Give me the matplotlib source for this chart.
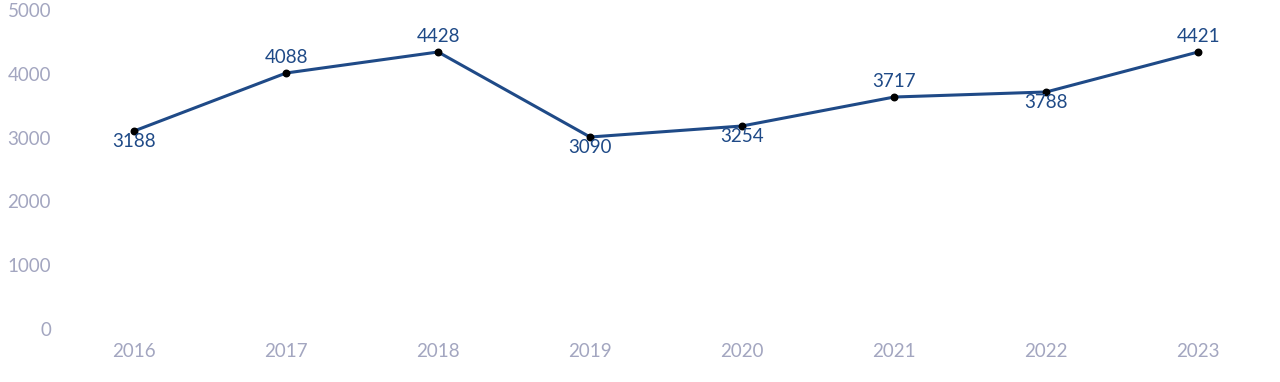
import matplotlib.pyplot as plt

years = ["2016", "2017", "2018", "2019", "2020", "2021", "2022", "2023"]
values = [3103, 4012, 4342, 3009, 3182, 3636, 3715, 4342]
labels = ["3188", "4088", "4428", "3090", "3254", "3717", "3788", "4421"]
label_above = [False, True, True, False, False, True, False, True]

LINE = "#1f4a87"
TICK = "#a3a6c0"

plt.rcParams["font.family"] = ["Lato", "DejaVu Sans"]

fig = plt.figure(figsize=(12.8, 3.82), dpi=100)
ax = fig.add_axes([58 / 1280, 1 - 329 / 382, (1259 - 58) / 1280, (329 - 10) / 382])

x = list(range(len(years)))
ax.plot(x, values, color=LINE, linewidth=2.2, zorder=2)
ax.scatter(x, values, color="black", s=22, zorder=3)

for xi, v, lab, up in zip(x, values, labels, label_above):
    if up:
        ax.annotate(lab, (xi, v), xytext=(0, 5), textcoords="offset points",
                    ha="center", va="bottom", color=LINE, fontsize=13.5)
    else:
        ax.annotate(lab, (xi, v), xytext=(0, -1.5), textcoords="offset points",
                    ha="center", va="top", color=LINE, fontsize=13.5)

ax.set_xlim(-0.5, 7.4)
ax.set_ylim(0, 5000)
ax.set_xticks(x)
ax.set_xticklabels(years)
ax.set_yticks([0, 1000, 2000, 3000, 4000, 5000])
ax.tick_params(colors=TICK, labelsize=13.5, length=0)
ax.tick_params(axis="x", pad=10)
ax.tick_params(axis="y", pad=5)
for s in ax.spines.values():
    s.set_visible(False)

fig.savefig("out.png", dpi=100)
